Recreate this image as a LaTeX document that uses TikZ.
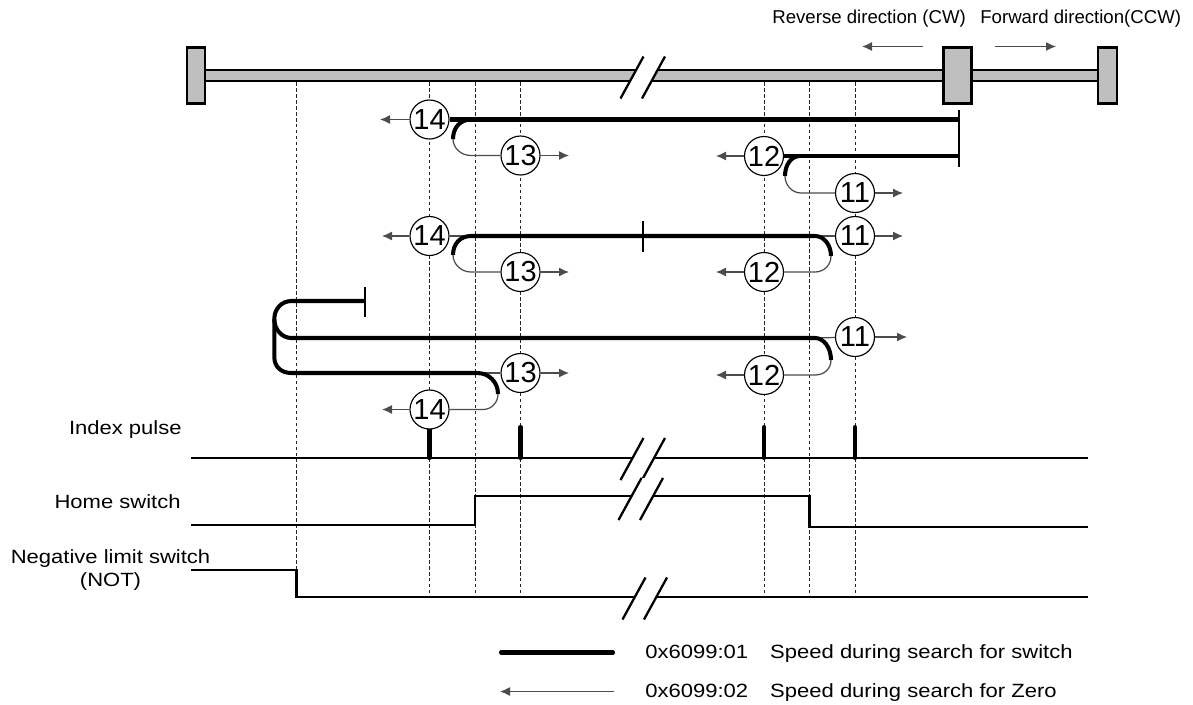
\documentclass[tikz,border=0pt]{standalone}
\usepackage{fontspec}
\setmainfont{Liberation Sans}
\newfontfamily\widefont[FakeStretch=1.15]{Liberation Sans}
\usetikzlibrary{arrows.meta, positioning, calc}

\begin{document}
\begin{tikzpicture}[
    x=0.02cm, y=-0.02cm,
    endblock/.style={rectangle, draw=black, line width=1.3pt, fill=black!25,
                     minimum width=0.37cm, minimum height=1.12cm, inner sep=0pt},
    carriage/.style={rectangle, draw=black, line width=1.3pt, fill=black!25,
                     minimum width=0.56cm, minimum height=1.12cm, inner sep=0pt},
    railbar/.style={rectangle, draw=black, line width=1.3pt, fill=black!25,
                    minimum width=17.86cm, minimum height=0.22cm, inner sep=0pt},
    numcirc/.style={circle, draw=black, line width=0.65pt, fill=white,
                    minimum size=0.78cm, inner sep=0pt, font=\fontsize{16.5}{16.5}\selectfont},
    guide/.style={black!85, line width=0.5pt, dash pattern=on 2pt off 1.4pt},
    fast/.style={line width=2.3pt, black},
    slow/.style={line width=0.7pt, black!70},
    arr/.style={slow, -{Latex[length=2mm, width=1.8mm, black!70]}},
    sig/.style={line width=1.2pt, black},
    stopbar/.style={line width=1.3pt, black},
    pulse/.style={line width=2.3pt, black},
    label/.style={font=\widefont\fontsize{10.9}{13.2}\selectfont, inner sep=0pt, align=center},
    toplabel/.style={font=\fontsize{10.6}{12}\selectfont, inner sep=0pt},
    breakmark/.pic={
        \fill[white] (0,-21) -- (-23,21) -- (-1.5,21) -- (21.5,-21) -- cycle;
        \draw[line width=1.3pt] (0,-21) -- (-23,21);
        \draw[line width=1.3pt] (21.5,-21) -- (-1.5,21);
    },
]
\useasboundingbox (0,0) rectangle (1193,704);

%% Guide positions
\coordinate (xnot) at (296.5,0);
\coordinate (x14)  at (429.5,0);
\coordinate (xhl)  at (475,0);
\coordinate (x13)  at (520.5,0);
\coordinate (x12)  at (764,0);
\coordinate (xhr)  at (809.5,0);
\coordinate (x11)  at (855,0);

%% Rail
\node[railbar] (rail) at (651.5,75.5) {};
\node[endblock] (railleft) at (196,75.5) {};
\node[endblock] (railright) at (1107.5,75.5) {};
\node[carriage] (cart) at (957.5,75.5) {};
\coordinate (breakrail) at (643.5,77.5);
\pic at (breakrail) {breakmark};

%% Direction labels
\node[toplabel, anchor=west] (revlabel) at (772,19) {Reverse direction (CW)};
\node[toplabel, anchor=west] (fwdlabel) at (980,19) {Forward direction(CCW)};
\coordinate (revstart) at (923,46.5);
\coordinate (revtip)   at (862,46.5);
\coordinate (fwdstart) at (995,46.5);
\coordinate (fwdtip)   at (1056,46.5);
\draw[arr] (revstart) -- (revtip);
\draw[arr] (fwdstart) -- (fwdtip);

%% Timing signals
\coordinate (ixa) at (191,458);
\coordinate (ixb) at (1088,458);
\coordinate (hsa) at (191,525);
\coordinate (hsb) at (475,496);
\coordinate (hsc) at (809.5,527);
\coordinate (hsd) at (1088,527);
\coordinate (nla) at (191,570);
\coordinate (nlb) at (296.5,597);
\coordinate (nlc) at (1088,597);

%% Guides
\foreach \g in {x14,xhl,x13,x12,xhr,x11}
    \draw[guide] (\g |- rail.south) -- (\g |- nlc);
\draw[guide] (xnot |- rail.south) -- (xnot |- nla);

\draw[sig] (ixa) -- (ixb);
\draw[sig] (hsa) -| (hsb) -| (hsc) |- (hsd);
\draw[sig] (nla) -| (nlb) -- (nlc);
\foreach \g in {x14,x13,x12,x11}
    \draw[pulse, line cap=round] (\g |- ixa) -- ($(\g |- ixa)+(0,-31)$);
\coordinate (breakix) at (643.5,459);
\coordinate (breakhs) at (641.5,499);
\coordinate (breaknl) at (645.5,598.5);
\pic at (breakix) {breakmark};
\pic at (breakhs) {breakmark};
\pic at (breaknl) {breakmark};

\node[label, anchor=east] (ixlabel) at (182,430) {Index pulse};
\node[label, anchor=east] (hslabel) at (181,502) {Home switch};
\node[label] (nllabel) at (110.5,570) {Negative limit switch\\(NOT)};

%% Circles, first row
\node[numcirc] (aF) at (429.5,119.5) {14};
\node[numcirc] (aC) at (520.5,155.5) {13};
\node[numcirc] (aB) at (764,156) {12};
\node[numcirc] (aA) at (855,193) {11};
\coordinate (atipF) at (380,119.5);
\coordinate (atipC) at (569,155.5);
\coordinate (atipB) at (716,156);
\coordinate (atipA) at (903,193);
\coordinate (astop) at (959,119.5);
\coordinate (astopb) at (959,156);
\coordinate (astoptop) at (959,110);
\coordinate (astopbot) at (959,167);
\coordinate (ahlt) at (471,119.5);
\coordinate (ahlm) at (453,139);
\coordinate (ahlb) at (471,155.5);
\coordinate (ahrt) at (800,156);
\coordinate (ahrm) at (785,176);
\coordinate (ahrb) at (801,193);

\draw[arr] (aF) -- (atipF);
\draw[arr] (aC) -- (atipC);
\draw[arr] (aB) -- (atipB);
\draw[arr] (aA) -- (atipA);
\draw[slow] (aC) -- (ahlb) .. controls +(-10,0) and +(0,9) .. (ahlm);
\draw[slow] (aA) -- (ahrb) .. controls +(-9,0) and +(0,9) .. (ahrm);
\draw[fast] (aF.east) -- (astop);
\draw[fast] (ahlt) .. controls +(-11,0) and +(0,-11) .. (ahlm);
\draw[fast] (aB.east) -- (astopb);
\draw[fast] (ahrt) .. controls +(-9,0) and +(0,-11) .. (ahrm);
\draw[stopbar] (astoptop) -- (astopbot);

%% Circles, second row
\node[numcirc] (bF) at (429.5,236) {14};
\node[numcirc] (bC) at (520.5,272) {13};
\node[numcirc] (bB) at (764,272) {12};
\node[numcirc] (bA) at (855,236) {11};
\coordinate (btipF) at (382,236);
\coordinate (btipC) at (569,272);
\coordinate (btipB) at (716,272);
\coordinate (btipA) at (903,236);
\coordinate (bhlt) at (471,236);
\coordinate (bhlm) at (453,255);
\coordinate (bhlb) at (471,272);
\coordinate (bhrt) at (815,236);
\coordinate (bhrm) at (831,256);
\coordinate (bhrb) at (815,272);
\coordinate (bticktop) at (642.7,221);
\coordinate (btickbot) at (642.7,252);

\draw[arr] (bF) -- (btipF);
\draw[arr] (bC) -- (btipC);
\draw[arr] (bB) -- (btipB);
\draw[arr] (bA) -- (btipA);
\draw[slow] (bF) -- (bhlt);
\draw[slow] (bA) -- (bhrt);
\draw[slow] (bC) -- (bhlb) .. controls +(-10,0) and +(0,9) .. (bhlm);
\draw[slow] (bB) -- (bhrb) .. controls +(9,0) and +(0,9) .. (bhrm);
\draw[fast] (bhlm) .. controls +(0,-11) and +(-11,0) .. (bhlt) -- (bhrt)
    .. controls +(9,0) and +(0,-11) .. (bhrm);
\draw[stopbar] (bticktop) -- (btickbot);

%% Circles, third row
\node[numcirc] (cA) at (855,337) {11};
\node[numcirc] (cB) at (764,375) {12};
\node[numcirc] (cC) at (520.5,373) {13};
\node[numcirc] (cF) at (429.5,409.5) {14};
\coordinate (ctipA) at (907,337);
\coordinate (ctipB) at (716,375);
\coordinate (ctipC) at (569,373);
\coordinate (ctipF) at (382,409.5);
\coordinate (cstart) at (364.7,301);
\coordinate (cticktop) at (364.7,287);
\coordinate (ctickbot) at (364.7,317);
\coordinate (cba) at (291.5,301);
\coordinate (cbb) at (274.3,319);
\coordinate (cbc) at (291.5,338);
\coordinate (cbd) at (274.3,357);
\coordinate (cbe) at (291.5,373);
\coordinate (cbf) at (477,373);
\coordinate (cbg) at (498,394);
\coordinate (cbh) at (483,409.5);
\coordinate (cbi) at (815,338);
\coordinate (cbj) at (831,360);
\coordinate (cbk) at (815,375);

\draw[arr] (cA) -- (ctipA);
\draw[arr] (cB) -- (ctipB);
\draw[arr] (cC) -- (ctipC);
\draw[arr] (cF) -- (ctipF);
\draw[slow] (cC) -- (cbf);
\draw[slow] (cA) -- (cbi);
\draw[slow] (cB) -- (cbk) .. controls +(9,0) and +(0,9) .. (cbj);
\draw[slow] (cF) -- (cbh) .. controls +(9,0) and +(0,8) .. (cbg);
\draw[fast] (cstart) -- (cba) .. controls +(-10,0) and +(0,-10) .. (cbb)
    .. controls +(0,10) and +(-10,0) .. (cbc) -- (cbi)
    .. controls +(9,0) and +(0,-12) .. (cbj);
\draw[fast] (cbb) -- (cbd) .. controls +(0,10) and +(-10,0) .. (cbe) -- (cbf)
    .. controls +(12,0) and +(0,-12) .. (cbg);
\draw[stopbar] (cticktop) -- (ctickbot);

%% Legend
\coordinate (lega) at (501,652.5);
\coordinate (legb) at (613,652.5);
\coordinate (legc) at (614,691.5);
\coordinate (legd) at (500,691.5);
\draw[fast, line cap=round] (lega) -- (legb);
\draw[arr] (legc) -- (legd);
\node[label, anchor=west] (legfast) at (645,654) {0x6099:01\hspace{1.15em}Speed during search for switch};
\node[label, anchor=west] (legslow) at (645,693) {0x6099:02\hspace{1.15em}Speed during search for Zero};

\end{tikzpicture}
\end{document}
